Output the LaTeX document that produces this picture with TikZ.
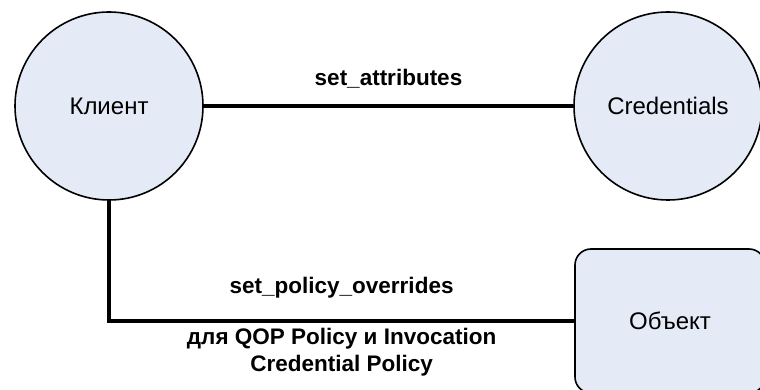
\documentclass[tikz,border=0pt]{standalone}
\usepackage{fontspec}
\setmainfont{Liberation Sans}
\usepackage{tikz}
\usetikzlibrary{calc}

\definecolor{nodefill}{RGB}{228,234,246}

\tikzset{
    party/.style={circle, draw=black, line width=1.6pt, fill=nodefill,
        minimum size=188pt, inner sep=0pt, font=\fontsize{24}{28}\selectfont},
    objbox/.style={rectangle, rounded corners=16pt, draw=black, line width=1.6pt,
        fill=nodefill, minimum width=190pt, minimum height=144pt,
        font=\fontsize{24}{28}\selectfont},
    link/.style={line width=4pt},
    linklabel/.style={font=\bfseries\fontsize{22.5}{27}\selectfont, align=center}
}

\begin{document}
\begin{tikzpicture}[x=1pt,y=-1pt]
                \clip (0,0) rectangle (760,390);
                \fill[white] (0,0) rectangle (760,390);

                \node[party] (client) at (109,106) {Клиент};
                \node[party] (cred) at (668,106) {Credentials};
                \node[objbox] (obj) at (670,321) {Объект};

                \draw[link] (client) -- node[linklabel, above=12pt] {set\_attributes} (cred);
                \draw[link] (client.south) |- node[linklabel, pos=0.75, above=17pt] {set\_policy\_overrides}
                    node[linklabel, pos=0.75, below=3pt, inner sep=2pt] {для QOP Policy и Invocation\\Credential Policy} (obj.west);
                % \draw[link] (cred) -- (obj);

            \end{tikzpicture}
\end{document}
